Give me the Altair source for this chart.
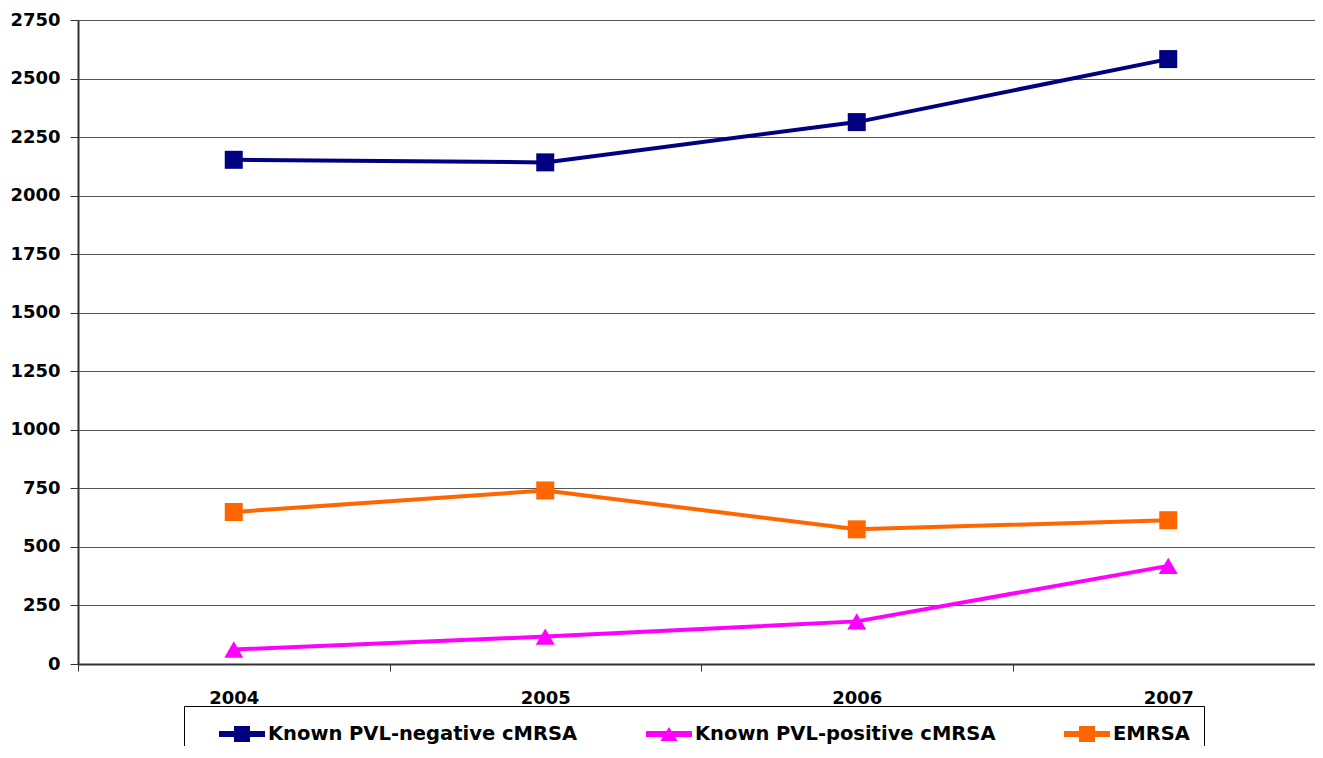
import altair as alt
import pandas as pd

# ---- data ----
years = ["2004", "2005", "2006", "2007"]
series_names = ["Known PVL-negative cMRSA", "Known PVL-positive cMRSA", "EMRSA"]
pvl_negative = [2153, 2142, 2314, 2583]
pvl_positive = [62, 117, 182, 419]
emrsa = [649, 741, 575, 614]
series_colors = ["#000080", "#FF00FF", "#FF6600"]
y_ticks = list(range(0, 2751, 250))

rows = []
for name, vals in zip(series_names, [pvl_negative, pvl_positive, emrsa]):
    for yr, v in zip(years, vals):
        rows.append({"year": yr, "value": v, "series": name})
df = pd.DataFrame(rows)

# legend symbols: a short line with a marker on it (unit coordinates)
LINE_SQ = ("M-1,-0.388L-1,0.388 M-0.373,-0.09H1V0.09H-0.373Z "
           "M0.074,-0.239H0.552V0.239H0.074Z")
LINE_TRI = ("M-1,-0.388L-1,0.388 M-0.373,-0.09H1V0.09H-0.373Z "
            "M0.313,-0.209L0.567,0.209L0.059,0.209Z")

FONT = "DejaVu Sans"
AXIS_COLOR = "#333333"

x_enc = alt.X(
    "year:N",
    sort=years,
    scale=alt.Scale(type="band", paddingInner=0, paddingOuter=0, range=[0, 1246]),
    axis=alt.Axis(
        title=None, labelAngle=0, tickBand="extent", tickSize=7,
        tickColor=AXIS_COLOR, domainColor=AXIS_COLOR, domainWidth=2,
        labelFont=FONT, labelFontSize=18, labelFontWeight="bold",
        labelColor="black", labelPadding=18, grid=False,
    ),
)
y_enc = alt.Y(
    "value:Q",
    scale=alt.Scale(domain=[0, 2750], nice=False),
    axis=alt.Axis(
        title=None, values=y_ticks, format="d", grid=True, gridColor="#555555",
        gridWidth=1, tickSize=8, tickColor=AXIS_COLOR, domainColor=AXIS_COLOR,
        domainWidth=2, labelFont=FONT, labelFontSize=18, labelFontWeight="bold",
        labelColor="black", labelPadding=10,
    ),
)
color_scale = alt.Scale(domain=series_names, range=series_colors)

legend_props = dict(
    title=None, orient="none", legendX=106, legendY=686,
    direction="horizontal", columns=3, columnPadding=47,
    padding=14, strokeColor="black", fillColor="white",
    clipHeight=28, symbolSize=4489, symbolStrokeWidth=0, symbolOpacity=1,
    labelFont=FONT, labelFontSize=19.5, labelFontWeight="bold",
    labelColor="black", labelOffset=3, labelLimit=1000,
    labelExpr="datum.label == 'EMRSA' ? datum.label + '\u00a0\u00a0\u00a0' : datum.label",
)

base = alt.Chart(df)

# invisible layer that only supplies the legend (line + marker symbols);
# it comes first so that its legend settings win when layers are merged
legend_layer = base.mark_point(filled=True, opacity=0, size=1).encode(
    x=x_enc, y=y_enc,
    color=alt.Color("series:N", scale=color_scale, legend=alt.Legend(**legend_props)),
    shape=alt.Shape("series:N",
                    scale=alt.Scale(domain=series_names, range=[LINE_SQ, LINE_TRI, LINE_SQ]),
                    legend=alt.Legend(**legend_props)),
)
lines = base.mark_line(strokeWidth=4).encode(
    x=x_enc, y=y_enc,
    color=alt.Color("series:N", scale=color_scale, legend=None),
)
squares = base.mark_point(shape="square", filled=True, size=324, opacity=1).encode(
    x=x_enc, y=y_enc,
    color=alt.Color("series:N", scale=color_scale, legend=None),
).transform_filter(alt.datum.series != "Known PVL-positive cMRSA")
triangles = base.mark_point(shape="triangle-up", filled=True, size=360, opacity=1).encode(
    x=x_enc, y=y_enc,
    color=alt.Color("series:N", scale=color_scale, legend=None),
).transform_filter(alt.datum.series == "Known PVL-positive cMRSA")

chart = alt.layer(legend_layer, lines, squares, triangles).properties(
    width=1237, height=644,
    autosize=alt.AutoSizeParams(type="none"),
    padding={"left": 70, "top": 12, "right": 0, "bottom": 82},
    background="white",
).configure_view(stroke=None)

chart.save("out.html", embed_options={"renderer": "svg", "actions": False})
